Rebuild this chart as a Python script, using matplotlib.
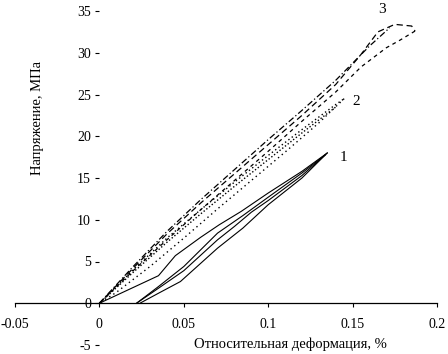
import numpy as np
import matplotlib
matplotlib.use("Agg")
import matplotlib.pyplot as plt

plt.rcParams['font.family'] = ['Liberation Serif', 'DejaVu Serif']
plt.rcParams['axes.unicode_minus'] = False

# curve 1 (solid): loading / unloading loops
c1_load_x = [0, 0.035, 0.045, 0.060, 0.071, 0.084, 0.100, 0.120, 0.135]
c1_load_y = [0, 3.3, 5.7, 7.9, 9.4, 11.0, 13.2, 15.8, 18.0]
c1_unl_x = [0.135, 0.120, 0.100, 0.090, 0.080, 0.070, 0.050, 0.035, 0.022]
c1_unl_y = [18.0, 15.3, 12.3, 10.9, 9.2, 7.6, 3.9, 1.8, 0]
c1_rel_x = [0.022, 0.035, 0.050, 0.070, 0.085, 0.100, 0.120, 0.134]
c1_rel_y = [0, 2.0, 4.4, 8.4, 10.5, 12.7, 15.6, 17.8]
c1_unl2_x = [0.134, 0.120, 0.100, 0.085, 0.070, 0.048, 0.035, 0.024]
c1_unl2_y = [17.8, 15.0, 11.8, 9.0, 6.6, 2.6, 1.2, 0]

# curve 2 (dotted)
c2_load_x = [0, 0.02, 0.04, 0.06, 0.08, 0.10, 0.12, 0.14, 0.145]
c2_load_y = [0, 4.0, 7.8, 11.2, 14.5, 17.7, 20.8, 23.8, 24.5]
c2_unl_x = [0.145, 0.13, 0.11, 0.09, 0.07, 0.05, 0.03, 0.01, 0]
c2_unl_y = [24.5, 21.6, 18.1, 14.7, 11.3, 7.8, 4.4, 1.3, 0]
c2_rel_x = [0, 0.02, 0.04, 0.06, 0.08, 0.10, 0.12, 0.14]
c2_rel_y = [0, 3.7, 7.3, 10.7, 14.0, 17.2, 20.4, 23.5]

# curve 3 (dashed)
c3_load_x = [0, 0.02, 0.04, 0.06, 0.08, 0.10, 0.12, 0.14, 0.155, 0.165, 0.175, 0.185, 0.187]
c3_load_y = [0, 4.2, 8.3, 12.0, 15.5, 19.0, 22.5, 26.2, 29.8, 32.5, 33.4, 33.2, 32.6]
c3_unl_x = [0.187, 0.178, 0.170, 0.155, 0.140, 0.120, 0.100, 0.080, 0.060, 0.040, 0.020, 0]
c3_unl_y = [32.6, 31.5, 30.6, 28.3, 25.3, 21.8, 18.2, 14.7, 11.2, 7.6, 3.9, 0]
c3_rel_x = [0, 0.02, 0.04, 0.06, 0.08, 0.10, 0.12, 0.14, 0.16, 0.172]
c3_rel_y = [0, 4.4, 8.6, 12.4, 16.0, 19.6, 23.1, 26.7, 30.8, 33.0]

x_ticks = [-0.05, 0, 0.05, 0.1, 0.15, 0.2]
x_tick_labels = ['-0.05', '0', '0.05', '0.1', '0.15', '0.2']
y_ticks = [-5, 0, 5, 10, 15, 20, 25, 30, 35]

fig = plt.figure(figsize=(4.48, 3.54), dpi=100)
ax = fig.add_axes([15 / 448, 1 - 345 / 354, (437 - 15) / 448, (345 - 11) / 354])

k = dict(color='black', lw=0.8)
ax.plot(c1_load_x, c1_load_y, **k)
ax.plot(c1_unl_x, c1_unl_y, **k)
ax.plot(c1_rel_x, c1_rel_y, **k)
ax.plot(c1_unl2_x, c1_unl2_y, **k)

ax.plot(c2_load_x, c2_load_y, color='black', lw=1.0, ls=(0, (1, 2)))
ax.plot(c2_unl_x, c2_unl_y, color='black', lw=1.0, ls=(0, (1, 2.5)))
ax.plot(c2_rel_x, c2_rel_y, color='black', lw=1.0, ls=(0, (1, 1.5)))

ax.plot(c3_load_x, c3_load_y, color='black', lw=0.9, ls=(0, (5, 3)))
ax.plot(c3_unl_x, c3_unl_y, color='black', lw=0.9, ls=(0, (3, 3)))
ax.plot(c3_rel_x, c3_rel_y, color='black', lw=0.9, ls=(0, (5, 2, 1, 2)))

ax.set_xlim(-0.05, 0.2)
ax.set_ylim(-5, 35)
ax.set_xticks(x_ticks)
ax.set_xticklabels(x_tick_labels)
ax.set_yticks(y_ticks)

for s in ['top', 'right']:
    ax.spines[s].set_visible(False)
ax.spines['bottom'].set_position(('data', 0))
ax.spines['left'].set_position(('data', 0))
ax.spines['left'].set_visible(False)
ax.spines['bottom'].set_linewidth(0.9)

ax.tick_params(axis='x', direction='out', length=3, width=0.8, pad=7.5, labelsize=10)
ax.tick_params(axis='y', direction='out', length=3, width=0.8, pad=3, labelsize=10)
ax.patch.set_alpha(0)

ax.text(0.1447, 17.4, '1', fontsize=11, ha='center', va='center')
ax.text(0.152, 24.2, '2', fontsize=11, ha='center', va='center')
ax.text(0.1676, 35.2, '3', fontsize=11, ha='center', va='center')

fig.text(37 / 448, 1 - 118 / 354, 'Напряжение, МПа', rotation=90,
         ha='center', va='center', fontsize=10.5)
fig.text(290 / 448, 1 - 344 / 354, 'Относительная деформация, %',
         ha='center', va='center', fontsize=10.5)

fig.savefig('out.png', dpi=100)
